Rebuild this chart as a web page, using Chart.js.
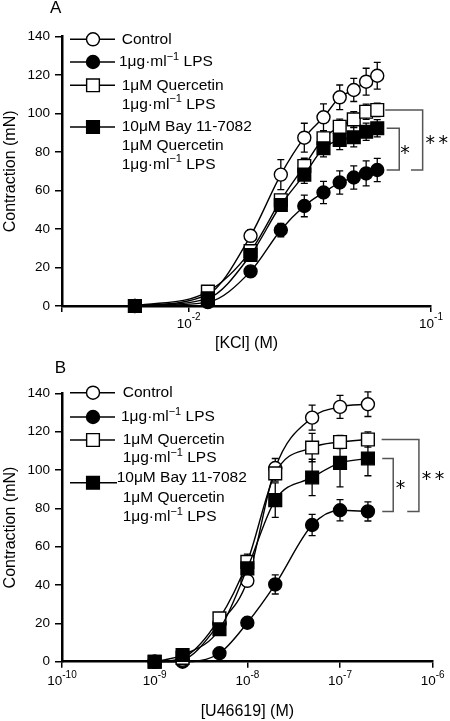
<!DOCTYPE html>
<html><head><meta charset="utf-8">
<script src="https://cdn.jsdelivr.net/npm/chart.js@4.4.0/dist/chart.umd.min.js"></script>
<style>
html,body{margin:0;padding:0;background:#fff;width:450px;height:721px;overflow:hidden}
#ca{position:absolute;left:0;top:0}
#cb{position:absolute;left:0;top:360px}
</style></head><body>
<canvas id="ca" width="450" height="360"></canvas>
<canvas id="cb" width="450" height="361"></canvas>
<script>
const FONT = "'Liberation Sans', Arial, Helvetica, sans-serif";
const STAR_FONT = "'DejaVu Sans', sans-serif";

// ---- shared labels ----
const seriesNames = [
  ['Control'],
  ['1μg·ml^{−1} LPS'],
  ['1μM Quercetin', '1μg·ml^{−1} LPS'],
  ['10μM Bay 11-7082', '1μM Quercetin', '1μg·ml^{−1} LPS']
];
const yTickValues = [0, 20, 40, 60, 80, 100, 120, 140];
const yTitle = 'Contraction (mN)';

// ---- Panel A : KCl ----
const kclConc      = [0.006, 0.012, 0.018, 0.024, 0.030, 0.036, 0.042, 0.048, 0.054, 0.060];
const kclControl   = [0, 6, 36.5, 68.3, 87.5, 98.1, 108.5, 112.3, 116.6, 119.7];
const kclControlE  = [0, 1, 3, 7.8, 7.5, 7, 6.4, 6, 7, 7];
const kclLPS       = [0, 2, 18, 39.5, 52, 59, 64.2, 66.8, 68.9, 70.7];
const kclLPSE      = [0, 1, 2.5, 3.5, 5.6, 5.8, 6, 6, 6.5, 6];
const kclQuer      = [0, 7.5, 28.5, 55, 72.8, 87.2, 93.2, 97, 101, 101.9];
const kclQuerE     = [0, 1, 2.5, 3, 4, 4, 4, 4, 4, 3.5];
const kclBay       = [0, 4, 26.5, 52.5, 68.3, 82, 86.3, 87.7, 90.6, 92.4];
const kclBayE      = [0, 1, 2.5, 3, 4.5, 4.5, 5, 5, 4.5, 4.5];
const kclTicks     = [0.003, 0.01, 0.1];
const kclTickText  = ['', '10^{-2}', '10^{-1}'];
const kclTitle     = '[KCl] (M)';

// ---- Panel B : U46619 ----
const u46Conc      = [1e-9, 2e-9, 5e-9, 1e-8, 2e-8, 5e-8, 1e-7, 2e-7];
const u46Control   = [0, 1, 20, 42.2, 101, 127.3, 132.9, 134.3];
const u46ControlE  = [0, 1, 2, 2.5, 5, 6.5, 6, 6.4];
const u46LPS       = [0, 0, 4.4, 20.3, 40.3, 71.3, 79, 78.4];
const u46LPSE      = [0, 0, 1, 1.5, 5, 5.5, 5.5, 5];
const u46Quer      = [0, 2, 22.6, 52.1, 98.2, 111.7, 114.6, 115.9];
const u46QuerE     = [0, 1, 3, 4, 4, 7.4, 3.5, 4];
const u46Bay       = [0, 3.5, 16.9, 48.7, 84.3, 96.1, 103.7, 106];
const u46BayE      = [0, 1, 2, 3, 9, 9.5, 12.5, 9];
const u46Ticks     = [1e-10, 1e-9, 1e-8, 1e-7, 1e-6];
const u46TickText  = ['10^{-10}', '10^{-9}', '10^{-8}', '10^{-7}', '10^{-6}'];
const u46Title     = '[U46619] (M)';

// ---- styling ----
const STYLES = [
  {style:'circle', fill:'#fff', radius:6.5, order:2},
  {style:'circle', fill:'#000', radius:6.5, order:3},
  {style:'rect',   fill:'#fff', radius:9,   order:1},
  {style:'rect',   fill:'#000', radius:9,   order:0}
];

function drawRich(ctx, str, x, y, size, supSize, raise, align) {
  const parts = [];
  const re = /\^\{([^}]*)\}/g; let last = 0, m;
  while ((m = re.exec(str))) {
    if (m.index > last) parts.push({t: str.slice(last, m.index), sup: false});
    parts.push({t: m[1], sup: true});
    last = re.lastIndex;
  }
  if (last < str.length) parts.push({t: str.slice(last), sup: false});
  let total = 0;
  parts.forEach(p => { ctx.font = (p.sup ? supSize : size) + 'px ' + FONT; p.w = ctx.measureText(p.t).width; total += p.w; });
  let cx = align === 'center' ? x - total / 2 : x;
  ctx.textAlign = 'left'; ctx.textBaseline = 'middle'; ctx.fillStyle = '#000';
  parts.forEach(p => {
    ctx.font = (p.sup ? supSize : size) + 'px ' + FONT;
    ctx.fillText(p.t, cx, p.sup ? y - raise : y);
    cx += p.w;
  });
}

function drawMarker(ctx, st, x, y) {
  ctx.save();
  ctx.beginPath();
  if (st.style === 'circle') ctx.arc(x, y, st.radius, 0, Math.PI * 2);
  else { const s = Math.SQRT1_2 * st.radius; ctx.rect(x - s, y - s, 2 * s, 2 * s); }
  ctx.fillStyle = st.fill; ctx.fill();
  ctx.lineWidth = 1.4; ctx.strokeStyle = '#000'; ctx.stroke();
  ctx.restore();
}

function makePanel(id, P) {
  const datasets = P.series.map((vals, i) => ({
    label: seriesNames[i].join(' '),
    data: P.x.map((xv, j) => ({x: xv, y: vals[j]})),
    borderColor: '#000', borderWidth: 1.4,
    pointStyle: STYLES[i].style, pointRadius: STYLES[i].radius, pointHoverRadius: STYLES[i].radius,
    pointBackgroundColor: STYLES[i].fill, pointBorderColor: '#000', pointBorderWidth: 1.4,
    cubicInterpolationMode: 'monotone', fill: false, clip: false, order: STYLES[i].order
  }));

  const errorBars = {
    id: 'errorBars',
    beforeDatasetsDraw(chart) {
      const ctx = chart.ctx, ys = chart.scales.y;
      ctx.save(); ctx.strokeStyle = '#000'; ctx.lineWidth = 1.3;
      P.errors.forEach((errs, i) => {
        const meta = chart.getDatasetMeta(i);
        meta.data.forEach((pt, j) => {
          const e = errs[j]; if (!e) return;
          const v = P.series[i][j];
          const y1 = ys.getPixelForValue(v + e), y2 = ys.getPixelForValue(v - e);
          ctx.beginPath();
          ctx.moveTo(pt.x, y1); ctx.lineTo(pt.x, y2);
          ctx.moveTo(pt.x - 3.5, y1); ctx.lineTo(pt.x + 3.5, y1);
          ctx.moveTo(pt.x - 3.5, y2); ctx.lineTo(pt.x + 3.5, y2);
          ctx.stroke();
        });
      });
      ctx.restore();
    }
  };

  const extras = {
    id: 'extras',
    afterDraw(chart) {
      const ctx = chart.ctx, xs = chart.scales.x, ys = chart.scales.y, ca = chart.chartArea;
      ctx.save();
      // panel letter
      ctx.fillStyle = '#000'; ctx.font = '17px ' + FONT; ctx.textAlign = 'center'; ctx.textBaseline = 'middle';
      ctx.fillText(P.letter, P.letterPos[0], P.letterPos[1]);
      // x tick labels
      P.xTicks.forEach((v, k) => {
        if (!P.xTickText[k]) return;
        drawRich(ctx, P.xTickText[k], xs.getPixelForValue(v), ca.bottom + P.tickDy, 13.5, 10, P.supRaise, 'center');
      });
      // legend
      P.legend.forEach((row, i) => {
        ctx.beginPath(); ctx.strokeStyle = '#000'; ctx.lineWidth = 1.4;
        ctx.moveTo(70, row.y); ctx.lineTo(row.lineEnd || 115, row.y); ctx.stroke();
        drawMarker(ctx, STYLES[i], 93, row.y);
        seriesNames[i].forEach((txt, k) => {
          const tx = Array.isArray(row.tx) ? row.tx[k] : row.tx;
          drawRich(ctx, txt, tx, row.ty[k], 15.5, 11, 5, 'left');
        });
      });
      // significance brackets
      const lastIdx = P.x.length - 1;
      const lx = xs.getPixelForValue(P.x[lastIdx]);
      ctx.strokeStyle = '#555'; ctx.lineWidth = 1.5;
      P.brackets.forEach(b => {
        const yt = ys.getPixelForValue(P.series[b.top][lastIdx]);
        const yb = ys.getPixelForValue(P.series[b.bottom][lastIdx]);
        ctx.beginPath();
        ctx.moveTo(lx + b.t0, yt); ctx.lineTo(lx + b.vx, yt); ctx.lineTo(lx + b.vx, yb); ctx.lineTo(lx + b.b0, yb);
        ctx.stroke();
        const cy = (yt + yb) / 2 + b.dy;
        ctx.fillStyle = '#000'; ctx.font = '19px ' + STAR_FONT; ctx.textAlign = 'center'; ctx.textBaseline = 'alphabetic';
        const mt = ctx.measureText('*');
        const off = (mt.actualBoundingBoxAscent - mt.actualBoundingBoxDescent) / 2;
        for (let s = 0; s < b.label.length; s++) {
          ctx.fillText('*', lx + b.lx + (s - (b.label.length - 1) / 2) * 13, cy + off);
        }
      });
      ctx.restore();
    }
  };

  return new Chart(document.getElementById(id), {
    type: 'line',
    data: {datasets},
    options: {
      responsive: false, animation: false, events: [],
      layout: {padding: P.padding},
      plugins: {legend: {display: false}, tooltip: {enabled: false}},
      scales: {
        x: {
          type: 'logarithmic', min: P.xTicks[0], max: P.xTicks[P.xTicks.length - 1],
          afterBuildTicks: s => { s.ticks = P.xTicks.map(v => ({value: v})); },
          afterFit: s => { s.height = P.xAxisHeight; },
          ticks: {callback: () => '', autoSkip: false, maxRotation: 0},
          grid: {drawOnChartArea: false, drawTicks: true, tickLength: 6, color: '#000', lineWidth: 1.5},
          border: {display: true, color: '#000', width: 2.5},
          title: {display: true, text: P.xTitle, color: '#000', font: {family: FONT, size: 16}, padding: {top: 0, bottom: P.xTitlePad}}
        },
        y: {
          type: 'linear', min: 0, max: 140,
          afterBuildTicks: s => { s.ticks = yTickValues.map(v => ({value: v})); },
          afterFit: s => { s.width = 62; },
          ticks: {color: '#000', font: {family: FONT, size: 13.5}, padding: 5},
          grid: {drawOnChartArea: false, drawTicks: true, tickLength: 7, color: '#000', lineWidth: 1.5},
          border: {display: true, color: '#000', width: 2.5},
          title: {display: true, text: yTitle, color: '#000', font: {family: FONT, size: 16}, padding: {top: 1, bottom: 0}}
        }
      }
    },
    plugins: [errorBars, extras]
  });
}

makePanel('ca', {
  letter: 'A', letterPos: [55.7, 8.7],
  x: kclConc,
  series: [kclControl, kclLPS, kclQuer, kclBay],
  errors: [kclControlE, kclLPSE, kclQuerE, kclBayE],
  xTicks: kclTicks, xTickText: kclTickText, xTitle: kclTitle,
  padding: {left: 0, top: 36.7, right: 19, bottom: 0},
  xAxisHeight: 54, xTitlePad: 6.4, tickDy: 18.5, supRaise: 7,
  legend: [
    {y: 39.3, ty: [39.3], tx: 121.7},
    {y: 62, ty: [62], tx: 119},
    {y: 85.3, ty: [85.3, 104.3], tx: 121.7},
    {y: 127, ty: [126.7, 146, 164.3], tx: 121.7}
  ],
  brackets: [
    {top: 2, bottom: 1, t0: 8, vx: 45.4, b0: 33.7, lx: 59.4, label: '**', dy: 0},
    {top: 3, bottom: 1, t0: 9.4, vx: 22, b0: 9.4, lx: 27.7, label: '*', dy: 0}
  ]
});

makePanel('cb', {
  letter: 'B', letterPos: [60.5, 8],
  x: u46Conc,
  series: [u46Control, u46LPS, u46Quer, u46Bay],
  errors: [u46ControlE, u46LPSE, u46QuerE, u46BayE],
  xTicks: u46Ticks, xTickText: u46TickText, xTitle: u46Title,
  padding: {left: 0, top: 33.3, right: 17.3, bottom: 0},
  xAxisHeight: 59.3, xTitlePad: 0, tickDy: 19.3, supRaise: 6,
  legend: [
    {y: 32.7, ty: [32.7], tx: 122.7},
    {y: 57, ty: [57], tx: 121},
    {y: 80, ty: [80, 97.7], tx: 122.7},
    {y: 122.7, ty: [117.3, 137.7, 156.7], tx: [116.7, 122.7, 122.7], lineEnd: 117}
  ],
  brackets: [
    {top: 2, bottom: 1, t0: 13.7, vx: 51, b0: 39.3, lx: 65, label: '**', dy: 0},
    {top: 3, bottom: 1, t0: 14.3, vx: 25.3, b0: 14.3, lx: 32.7, label: '*', dy: 0}
  ]
});
</script>
</body></html>
